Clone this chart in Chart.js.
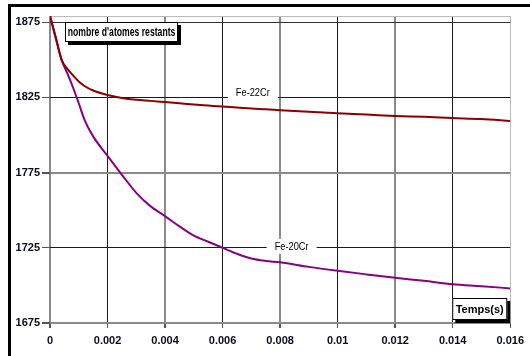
<!DOCTYPE html>
<html lang="fr">

<head>
    <meta charset="UTF-8">
    <title>nombre d'atomes restants</title>
    <script src="https://cdn.jsdelivr.net/npm/chart.js"></script>
    <style>
        body { margin: 0; background: #fff; }
    </style>
</head>

<body>
    <canvas id="chart" width="530" height="356"></canvas>

    <script>
        // temps (s)
        const times = [0, 0.0002, 0.0004, 0.0006, 0.0008, 0.001, 0.0012, 0.0015, 0.002, 0.0025, 0.003, 0.0035,
            0.004, 0.0045, 0.005, 0.0055, 0.006, 0.0065, 0.007, 0.0075, 0.008, 0.009, 0.010, 0.011,
            0.012, 0.013, 0.014, 0.015, 0.016];

        const fe22Cr = [1879, 1865, 1850, 1844, 1839.5, 1835.5, 1832.5, 1829.5, 1826.5, 1824.5, 1823.3, 1822.6,
            1821.8, 1821, 1820.2, 1819.5, 1818.8, 1818.2, 1817.5, 1817, 1816.4, 1815.3, 1814.3, 1813.5,
            1812.6, 1812, 1811.2, 1810.5, 1809.2];

        const fe20Cr = [1879, 1864, 1850, 1841, 1831.5, 1821, 1810, 1799, 1786, 1773.5, 1761.5, 1752.5,
            1746, 1739.2, 1733, 1729, 1725, 1721, 1717.8, 1716.2, 1715.3, 1712.3, 1709.7, 1707.3,
            1705, 1703, 1700.8, 1699.5, 1698];

        const xTicks = [0, 0.002, 0.004, 0.006, 0.008, 0.010, 0.012, 0.014, 0.016];
        const yTicks = [1675, 1725, 1775, 1825, 1875];
        const yMax = 1879;

        const seriesLabels = [
            { text: 'Fe-22Cr', x: 0.00705, y: 1828.3 },
            { text: 'Fe-20Cr', x: 0.0084, y: 1726.3 }
        ];

        const sans = "'Liberation Sans', Arial, sans-serif";

        function toPoints(ys) {
            return times.map((t, i) => ({ x: t, y: ys[i] }));
        }

        // Arial Narrow look-alike: squeeze the text horizontally
        function narrowText(ctx, text, x, y, font, squeeze) {
            ctx.save();
            ctx.font = font;
            ctx.textAlign = 'center';
            ctx.textBaseline = 'middle';
            ctx.translate(x, y);
            ctx.scale(squeeze, 1);
            ctx.fillText(text, 0, 0);
            ctx.restore();
        }

        function drawBox(ctx, x, y, w, h, text, font, squeeze) {
            ctx.fillStyle = '#000';
            ctx.fillRect(x + 3, y + 3, w, h);
            ctx.fillStyle = '#fff';
            ctx.fillRect(x, y, w, h);
            ctx.strokeStyle = '#000';
            ctx.lineWidth = 1;
            ctx.strokeRect(x + 0.5, y + 0.5, w - 1, h - 1);
            ctx.fillStyle = '#000';
            narrowText(ctx, text, x + w / 2, y + h / 2 + 1, font, squeeze);
        }

        const decorations = {
            id: 'decorations',
            afterDraw(chart) {
                const ctx = chart.ctx;
                const area = chart.chartArea;
                const xs = chart.scales.x;
                const ys = chart.scales.y;
                ctx.save();

                // labels on the curves
                seriesLabels.forEach(l => {
                    const px = xs.getPixelForValue(l.x);
                    const py = ys.getPixelForValue(l.y);
                    ctx.fillStyle = '#fff';
                    ctx.fillRect(px - 25, py - 7, 50, 15);
                    ctx.fillStyle = '#000';
                    narrowText(ctx, l.text, px, py + 1, '11px ' + sans, 0.84);
                });

                drawBox(ctx, area.left + 15, area.top + 6, 113, 20, "nombre d'atomes restants", 'bold 12px ' + sans, 0.72);
                drawBox(ctx, area.right - 58, area.bottom - 25, 55, 22, 'Temps(s)', 'bold 11px ' + sans, 1);

                // outer frame (left + top)
                ctx.fillStyle = '#000';
                ctx.fillRect(8, 4, 3, chart.height - 4);
                ctx.fillRect(8, 4, chart.width - 8, 3);
                ctx.restore();
            }
        };

        const xGrid = ['#8a8a8a', '#1a1a1a', '#8a8a8a', '#1a1a1a', '#8a8a8a', '#1a1a1a', '#8a8a8a', '#1a1a1a', '#bbbbbb'];
        const yGrid = { 1675: '#8a8a8a', 1725: '#1a1a1a', 1775: '#8a8a8a', 1825: '#1a1a1a', 1875: '#333333' };

        new Chart(document.getElementById('chart'), {
            type: 'line',
            data: {
                datasets: [{
                    label: 'Fe-22Cr',
                    data: toPoints(fe22Cr),
                    borderColor: '#8b0000',
                    borderWidth: 2,
                    pointRadius: 0,
                    cubicInterpolationMode: 'monotone'
                }, {
                    label: 'Fe-20Cr',
                    data: toPoints(fe20Cr),
                    borderColor: '#880088',
                    borderWidth: 2,
                    pointRadius: 0,
                    cubicInterpolationMode: 'monotone'
                }]
            },
            options: {
                responsive: false,
                animation: false,
                layout: { padding: { top: 16, right: 19, left: 0, bottom: 0 } },
                plugins: {
                    legend: { display: false },
                    tooltip: { enabled: false }
                },
                scales: {
                    x: {
                        type: 'linear',
                        min: 0,
                        max: 0.016,
                        afterBuildTicks: s => { s.ticks = xTicks.map(v => ({ value: v })); },
                        afterFit: s => { s.height = 33; },
                        border: { display: false },
                        grid: {
                            color: c => xGrid[c.index] || '#888',
                            lineWidth: c => (c.index % 2 === 0 && c.index < 8) ? 2 : 1,
                            tickLength: 5,
                            tickColor: '#555'
                        },
                        ticks: {
                            padding: 6,
                            maxRotation: 0,
                            autoSkip: false,
                            color: '#0a0a22',
                            font: { family: sans, size: 11, weight: 'bold' },
                            callback: v => String(+Number(v).toFixed(3))
                        }
                    },
                    y: {
                        min: 1675,
                        max: yMax,
                        afterBuildTicks: s => { s.ticks = yTicks.concat([yMax]).map(v => ({ value: v })); },
                        afterFit: s => { s.width = 50; },
                        border: { display: false },
                        grid: {
                            color: c => yGrid[c.tick.value] || '#bbbbbb',
                            lineWidth: c => (c.tick.value === 1675 || c.tick.value === 1775) ? 2 : 1,
                            tickLength: 8,
                            tickColor: c => c.tick.value === yMax ? 'rgba(0,0,0,0)' : '#555'
                        },
                        ticks: {
                            padding: 2,
                            autoSkip: false,
                            color: '#0a0a22',
                            font: { family: sans, size: 11, weight: 'bold' },
                            callback: v => v === yMax ? '' : String(v)
                        }
                    }
                }
            },
            plugins: [decorations]
        });
    </script>
</body>

</html>
